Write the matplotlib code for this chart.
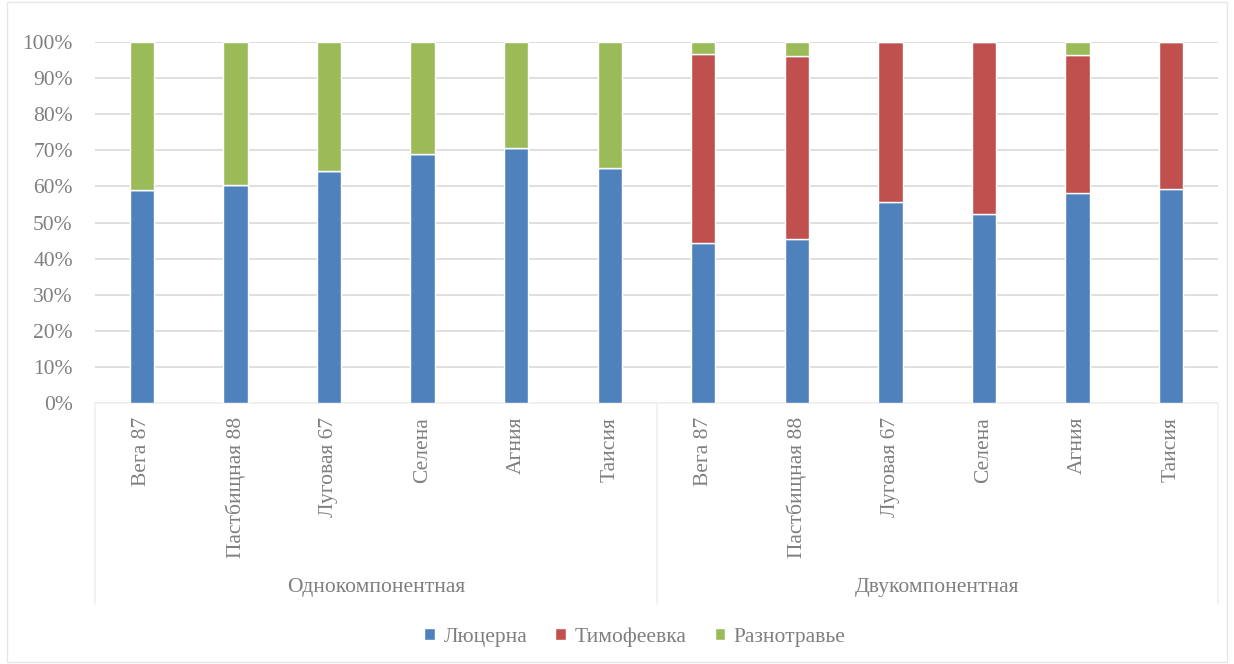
import matplotlib
matplotlib.use('Agg')
import matplotlib.pyplot as plt
from matplotlib.patches import Rectangle
import numpy as np

# данные
sorta = ['Вега 87', 'Пастбищная 88', 'Луговая 67', 'Селена', 'Агния', 'Таисия']
gruppy = ['Однокомпонентная', 'Двукомпонентная']
lyucerna = [59.0, 60.3, 64.2, 69.0, 70.7, 65.0, 44.3, 45.5, 55.6, 52.4, 58.2, 59.2]
timofeevka = [0, 0, 0, 0, 0, 0, 52.5, 50.5, 44.4, 47.6, 38.2, 40.8]
raznotravye = [41.0, 39.7, 35.8, 31.0, 29.3, 35.0, 3.2, 4.0, 0, 0, 3.6, 0]

seriya = ['Люцерна', 'Тимофеевка', 'Разнотравье']
cveta = ['#4f81bd', '#c0504d', '#9bbb59']

plt.rcParams['font.family'] = ['Liberation Serif', 'DejaVu Serif']
seryi = '#7f7f7f'
fs = 15.5

W, H = 1234, 664
fig = plt.figure(figsize=(W / 100, H / 100), dpi=100)
ax = fig.add_axes([95 / W, 1 - 403 / H, (1218 - 95) / W, (403 - 42) / H])

x = np.arange(len(lyucerna)) + 0.5
niz = np.zeros(len(x))
for vals, name, c in zip([lyucerna, timofeevka, raznotravye], seriya, cveta):
    v = np.array(vals) / 100
    ax.bar(x, v, width=0.26, bottom=niz, color=c, edgecolor='white',
           linewidth=1.0, label=name, zorder=3)
    niz += v

ax.set_xlim(0, len(x))
ax.set_ylim(0, 1)
ax.set_yticks(np.arange(0, 1.01, 0.1))
ax.set_yticklabels([f'{int(round(t * 100))}%' for t in np.arange(0, 1.01, 0.1)],
                   color=seryi, fontsize=fs)
ax.yaxis.grid(True, color='#d9d9d9', linewidth=1.2, zorder=0)
ax.tick_params(axis='y', length=0, pad=16)
ax.tick_params(axis='x', length=0, pad=10)
for s in ['top', 'right', 'left']:
    ax.spines[s].set_visible(False)
ax.spines['bottom'].set_color('#f0f0f0')
ax.spines['bottom'].set_linewidth(1.2)

ax.set_xticks(x)
ax.set_xticklabels(sorta * 2, rotation=90, va='top', ha='center',
                   color=seryi, fontsize=fs)

# линии групп и подписи
tr = ax.get_xaxis_transform()
for xv in [0, 6, 12]:
    ax.plot([xv, xv], [0, -0.555], transform=tr, color='#f0f0f0',
            linewidth=1.2, clip_on=False)
for i, g in enumerate(gruppy):
    ax.text(i * 6 + 3, -0.51, g, transform=tr, ha='center', va='center',
            color=seryi, fontsize=fs)

leg = fig.legend(loc='center', bbox_to_anchor=(635 / W, 1 - 637 / H), ncol=3,
                 frameon=False, fontsize=fs, handlelength=0.5, handleheight=0.5,
                 handletextpad=0.4, columnspacing=1.3)
for t in leg.get_texts():
    t.set_color(seryi)

fig.patches.append(Rectangle((7 / W, 0.003), (W - 14) / W, 0.994,
                             transform=fig.transFigure, fill=False,
                             edgecolor='#e6e6e6', linewidth=1))

plt.savefig('out.png', dpi=100)
